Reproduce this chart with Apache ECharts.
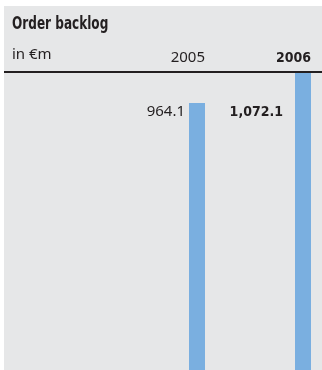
<!DOCTYPE html>
<html>
<head>
<meta charset="utf-8">
<script src="https://cdn.jsdelivr.net/npm/echarts@6/dist/echarts.min.js"></script>
<style>
  html, body { margin: 0; padding: 0; background: #ffffff; }
  #chart { position: absolute; left: 4px; top: 6px; width: 318px; height: 364px; background: #e6e7e8; }
</style>
</head>
<body>
<div id="chart"></div>
<script>
// Fiscal years and order backlog (in € million)
const years = ['2005', '2006'];
const backlog = [964.1, 1072.1];
const currentYear = '2006';
const titleText = 'Order backlog';
const unitText = 'in €m';

const ink = '#231f20';
const barColor = '#7aafe0';
const regularFont = '"Noto Sans", sans-serif';
const boldFont = '"DejaVu Sans Condensed", "Noto Sans", sans-serif';

const fmt = v => v.toLocaleString('en-US', { minimumFractionDigits: 1, maximumFractionDigits: 1 });

const yearRich = {
  n: { fontFamily: regularFont, fontSize: 15, color: ink },
  b: { fontFamily: boldFont, fontWeight: 'bold', fontSize: 14, color: ink }
};
const valueRich = {
  n: { fontFamily: regularFont, fontSize: 15, color: ink, padding: [0, 20, 0, 0] },
  b: { fontFamily: boldFont, fontWeight: 'bold', fontSize: 14, color: ink, padding: [0, 28, 0, 0] }
};

const chart = echarts.init(document.getElementById('chart'), null, { renderer: 'canvas' });

chart.setOption({
  backgroundColor: '#e6e7e8',
  animation: false,
  title: [
    {
      text: unitText, left: 8, top: 41, padding: 0,
      textStyle: { fontFamily: regularFont, fontWeight: 'normal', fontSize: 15, color: ink }
    }
  ],
  grid: { left: 148, top: 66, width: 212, height: 308, outerBoundsMode: 'none' },
  xAxis: [
    {
      // year row above the rule
      type: 'category', data: years, position: 'top',
      axisLine: { show: false }, axisTick: { show: false },
      axisLabel: {
        align: 'right', margin: 7,
        formatter: v => (v === currentYear ? `{b|${v}}` : `{n|${v}}`),
        rich: yearRich
      }
    },
    {
      // value row beside the bars
      type: 'category', data: years, position: 'top', offset: -47,
      axisLine: { show: false }, axisTick: { show: false },
      axisLabel: {
        align: 'right', margin: 0,
        formatter: (v, i) => (v === currentYear ? `{b|${fmt(backlog[i])}}` : `{n|${fmt(backlog[i])}}`),
        rich: valueRich
      }
    }
  ],
  yAxis: { type: 'value', min: 0, max: Math.max(...backlog), show: false },
  series: [
    {
      type: 'bar', name: 'Order backlog', data: backlog, xAxisIndex: 0,
      barWidth: 16, barGap: '0%', itemStyle: { color: barColor }
    },
    {
      // empty companion slot so each bar sits left of its category centre
      type: 'bar', data: backlog.map(() => null), xAxisIndex: 0,
      barWidth: 16, silent: true, itemStyle: { color: 'transparent' }
    }
  ],
  graphic: [
    {
      // condensed heading
      type: 'text', x: 8, y: 10, scaleX: 0.79, z: 100,
      style: {
        text: titleText, fill: ink, align: 'left', verticalAlign: 'top',
        fontFamily: boldFont, fontWeight: 'bold', fontSize: 17
      }
    },
    {
      type: 'line', z: 100,
      shape: { x1: 0, y1: 66, x2: 318, y2: 66 },
      style: { stroke: ink, lineWidth: 2 }
    }
  ]
});
</script>
</body>
</html>
